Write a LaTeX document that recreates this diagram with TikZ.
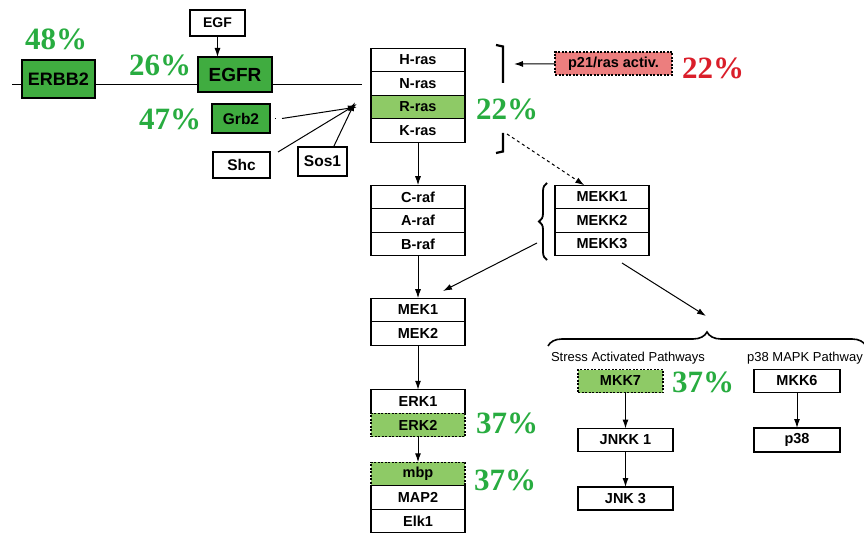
\documentclass[tikz,border=0pt]{standalone}
\usepackage{fontspec}
\setmainfont{Liberation Serif}
\setsansfont{Liberation Sans}
\usetikzlibrary{positioning,arrows.meta,decorations.pathreplacing}
\definecolor{dkgreen}{RGB}{64,172,64}
\definecolor{ltgreen}{RGB}{142,202,102}
\definecolor{pctgreen}{RGB}{40,172,64}
\definecolor{pctred}{RGB}{218,30,42}
\definecolor{rasred}{RGB}{236,126,126}
\tikzset{
  gene/.style={draw, line width=1.4pt, minimum width=94pt, minimum height=23.5pt,
    inner sep=0pt, outer sep=0pt, font=\sffamily\bfseries\fontsize{14.5}{14.5}\selectfont},
  hit/.style={fill=ltgreen, dash pattern=on 2pt off 1.5pt},
  pct/.style={text=pctgreen, font=\bfseries\fontsize{31}{31}\selectfont},
  arr/.style={-{Latex[length=9pt,width=6pt]}, line width=1pt},
  heading/.style={font=\sffamily\fontsize{13}{13}\selectfont}
}
\begin{document}
\begin{tikzpicture}[x=1pt, y=-1pt]
  \useasboundingbox (0,0) rectangle (864,534);
  % membrane
  \draw [line width=1pt] (12,85) -- (362,85);
  \node [gene, fill=dkgreen, minimum width=73pt, minimum height=38pt, font=\sffamily\bfseries\fontsize{18}{18}\selectfont] (erbb2) at (58.5,79) {ERBB2};
  \node [gene, fill=dkgreen, minimum width=74pt, minimum height=35pt, font=\sffamily\bfseries\fontsize{19}{19}\selectfont] (egfr) at (235,74.5) {EGFR};
  \node [gene, minimum width=55pt, minimum height=26pt, font=\sffamily\bfseries\fontsize{14}{14}\selectfont] (egf) at (217.5,23) {EGF};
  \node [gene, fill=dkgreen, minimum width=58pt, minimum height=29pt, font=\sffamily\bfseries\fontsize{15.5}{15.5}\selectfont] (grb2) at (241,118.5) {Grb2};
  \node [gene, minimum width=57pt, minimum height=26pt, font=\sffamily\bfseries\fontsize{15.5}{15.5}\selectfont] (shc) at (241.5,165) {Shc};
  \node [gene, minimum width=49pt, minimum height=29pt, font=\sffamily\bfseries\fontsize{15.5}{15.5}\selectfont] (sos1) at (322.5,161.5) {Sos1};
  \node [pct] (p48) at (56,39) {48\%};
  \node [pct] (p26) at (160,65) {26\%};
  \node [pct] (p47) at (170,119) {47\%};
  \draw [arr] (egf) -- (egf |- egfr.north);
  \coordinate (rasin) at (357,107);
  \draw (grb2.east) ++(5,0) -- ++(0,1);
  \draw [arr] ([xshift=12pt]grb2.east) -- (rasin);
  \draw [arr] ([xshift=8pt]shc.north east) -- ([yshift=3pt]rasin);
  \draw [arr] ([xshift=11pt]sos1.north) -- ([xshift=-2pt,yshift=5pt]rasin);
  % ras
  \node [gene] (hras) at (418,60) {H-ras};
  \node [gene, below=0pt of hras] (nras) {N-ras};
  \node [gene, fill=ltgreen, below=0pt of nras] (rras) {R-ras};
  \node [gene, below=0pt of rras] (kras) {K-ras};
  \draw [line width=2.2pt] (496,45) -- (503,46.5) -- (503,83);
  \draw [line width=2.2pt] (503,133) -- (503,151.5) -- (496,153);
  \node [pct] (p22) at (507,109) {22\%};
  \node [gene, fill=rasred, dash pattern=on 2pt off 1.5pt, minimum width=117pt, minimum height=23pt] (p21) at (613.5,63.5) {p21/ras activ.};
  \node [pct, text=pctred] (p22red) at (713,68) {22\%};
  \coordinate (brtip) at (514,64);
  \coordinate (brlow) at (507,134);
  \draw [arr] (p21) -- (brtip);
  % raf
  \node [gene] (craf) at (418,197) {C-raf};
  \node [gene, below=0pt of craf] (araf) {A-raf};
  \node [gene, below=0pt of araf] (braf) {B-raf};
  \draw [arr] (kras) -- (craf);
  % mekk
  \node [gene] (mekk1) at (602,197) {MEKK1};
  \node [gene, below=0pt of mekk1] (mekk2) {MEKK2};
  \node [gene, below=0pt of mekk2] (mekk3) {MEKK3};
  \draw [arr, dashed] (brlow) -- (mekk1);
  \draw [decorate, decoration={brace, amplitude=8pt}, line width=1.8pt] (547,260) -- (547,183);
  \coordinate (mekkl) at (537,243);
  \coordinate (mekkr) at (622,263);
  % mek, erk
  \node [gene] (mek1) at (418,310) {MEK1};
  \node [gene, below=0pt of mek1] (mek2) {MEK2};
  \coordinate (mekin) at (443,291);
  \draw [arr] (braf) -- (mek1);
  \draw [arr] (mekkl) -- (mekin);
  \node [gene] (erk1) at (418,401.5) {ERK1};
  \node [gene, hit, below=0pt of erk1] (erk2) {ERK2};
  \draw [arr] (mek2) -- (erk1);
  \node [pct] (p37a) at (507,423) {37\%};
  \node [gene, hit] (mbp) at (418,474) {mbp};
  \node [gene, below=0pt of mbp] (map2) {MAP2};
  \node [gene, below=0pt of map2] (elk1) {Elk1};
  \draw [arr] (erk2) -- (mbp);
  \node [pct] (p37b) at (505,480) {37\%};
  % stress pathways
  \coordinate (pathin) at (706,316);
  \draw [arr] (mekkr) -- (pathin);
  \draw [decorate, decoration={brace, amplitude=14pt}, line width=1.6pt] (548,346) -- (866,346);
  \node [heading] (sap) at (628,358) {Stress Activated Pathways};
  \node [heading] (p38p) at (805,358) {p38 MAPK Pathway};
  \node [gene, hit, minimum width=85pt, minimum height=23pt] (mkk7) at (620.5,381) {MKK7};
  \node [pct] (p37c) at (703,382) {37\%};
  \node [gene, minimum width=95pt, minimum height=23pt] (jnkk1) at (625.5,440) {JNKK 1};
  \node [gene, minimum width=95pt, minimum height=23pt] (jnk3) at (625.5,498.5) {JNK 3};
  \draw [arr] (mkk7.south -| jnkk1.north) -- (jnkk1);
  \draw [arr] (jnkk1) -- (jnk3);
  \node [gene, minimum width=86pt, minimum height=23pt] (mkk6) at (797,381) {MKK6};
  \node [gene, minimum width=86pt, minimum height=24pt] (p38) at (797,440) {p38};
  \draw [arr] (mkk6) -- (p38);
\end{tikzpicture}
\end{document}
